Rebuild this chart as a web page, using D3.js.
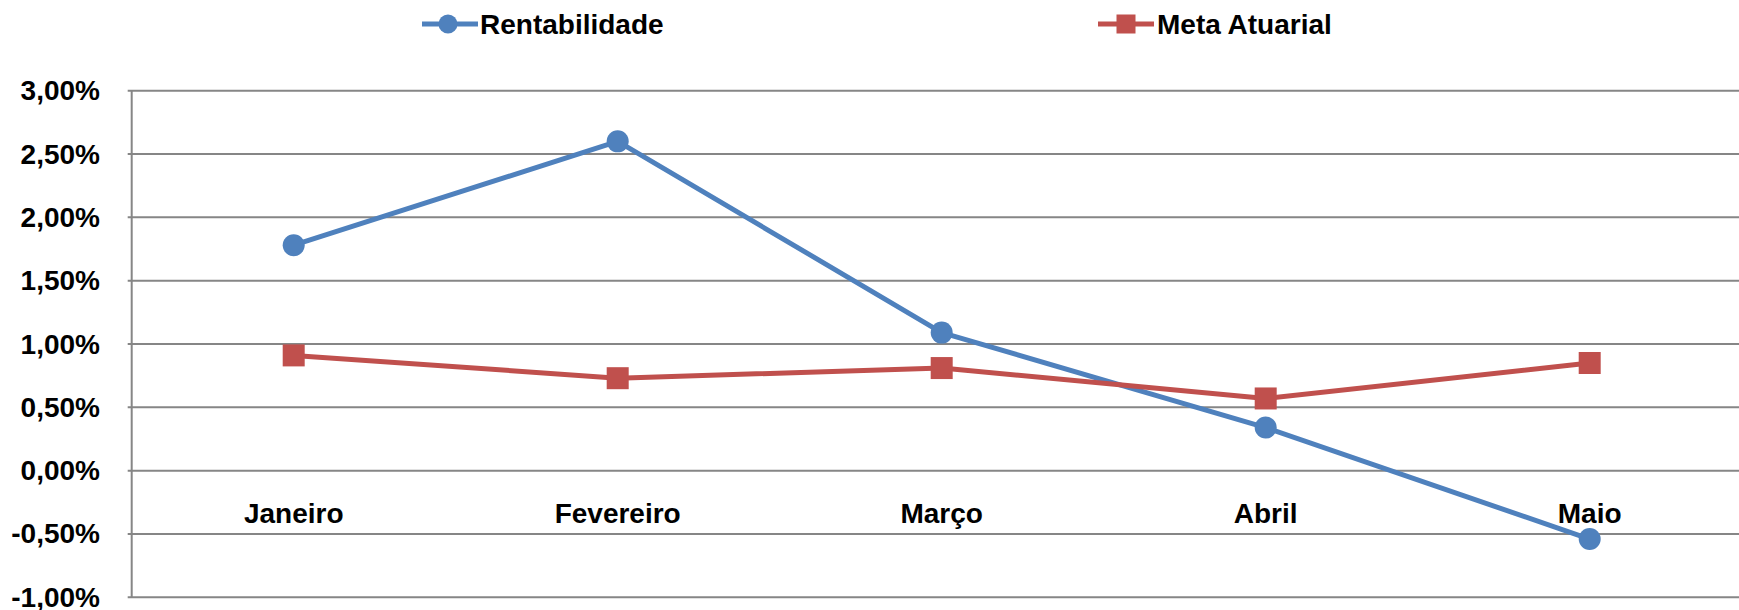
<!DOCTYPE html>
<html>
<head>
<meta charset="utf-8">
<script src="https://cdn.jsdelivr.net/npm/d3@7"></script>
<style>
  html, body { margin: 0; padding: 0; background: #ffffff; overflow: hidden; }
  svg { display: block; }
  text { font-family: "Liberation Sans", Arial, sans-serif; font-weight: bold; fill: #000; }
</style>
</head>
<body>
<svg id="chart" width="1739" height="610"></svg>
<script>
// ---- data ----
const categories = ["Janeiro", "Fevereiro", "Março", "Abril", "Maio"];
const rentabilidade = [1.78, 2.60, 1.09, 0.34, -0.54];
const metaAtuarial = [0.91, 0.73, 0.81, 0.57, 0.85];
const yTicks = [-1.0, -0.5, 0.0, 0.5, 1.0, 1.5, 2.0, 2.5, 3.0];
const seriesNames = ["Rentabilidade", "Meta Atuarial"];

// ---- layout ----
const W = 1739, H = 610;
const plotLeft = 131.7, plotRight = 1751.7, plotTop = 90.7, plotBottom = 597.3;
const blue = "#4F81BD", red = "#C0504D", grid = "#868686";

const svg = d3.select("#chart");

const x = d3.scalePoint().domain(categories).range([plotLeft, plotRight]).padding(0.5);
const y = d3.scaleLinear().domain([-1, 3]).range([plotBottom, plotTop]);
const fmt = v => v.toFixed(2).replace(".", ",") + "%";

// gridlines
svg.append("g").selectAll("line").data(yTicks).join("line")
  .attr("x1", plotLeft - 4).attr("x2", plotRight)
  .attr("y1", d => y(d)).attr("y2", d => y(d))
  .attr("stroke", grid).attr("stroke-width", 2);

// left axis line
svg.append("line")
  .attr("x1", plotLeft).attr("x2", plotLeft)
  .attr("y1", y(3)).attr("y2", y(-1))
  .attr("stroke", grid).attr("stroke-width", 2);

// y labels
svg.append("g").selectAll("text").data(yTicks).join("text")
  .attr("x", 100).attr("y", d => y(d))
  .attr("text-anchor", "end").attr("dominant-baseline", "central")
  .attr("font-size", 28)
  .text(fmt);

// category labels (below zero line)
svg.append("g").selectAll("text").data(categories).join("text")
  .attr("x", d => x(d)).attr("y", y(0) + 52)
  .attr("text-anchor", "middle")
  .attr("font-size", 28)
  .text(d => d);

const line = d3.line().x(d => x(d.c)).y(d => y(d.v));

const blueData = categories.map((c, i) => ({ c, v: rentabilidade[i] }));
const redData = categories.map((c, i) => ({ c, v: metaAtuarial[i] }));

// Rentabilidade
svg.append("path").datum(blueData).attr("d", line)
  .attr("fill", "none").attr("stroke", blue).attr("stroke-width", 5)
  .attr("stroke-linejoin", "round");
svg.append("g").selectAll("circle").data(blueData).join("circle")
  .attr("cx", d => x(d.c)).attr("cy", d => y(d.v)).attr("r", 11)
  .attr("fill", blue);

// Meta Atuarial
svg.append("path").datum(redData).attr("d", line)
  .attr("fill", "none").attr("stroke", red).attr("stroke-width", 5)
  .attr("stroke-linejoin", "round");
svg.append("g").selectAll("rect").data(redData).join("rect")
  .attr("x", d => x(d.c) - 11).attr("y", d => y(d.v) - 11)
  .attr("width", 22).attr("height", 22)
  .attr("fill", red);

// legend
const legendY = 24;
const lg = svg.append("g");
// Rentabilidade
lg.append("line").attr("x1", 422).attr("x2", 478).attr("y1", legendY).attr("y2", legendY)
  .attr("stroke", blue).attr("stroke-width", 5);
lg.append("circle").attr("cx", 448).attr("cy", legendY).attr("r", 9.5).attr("fill", blue);
lg.append("text").attr("x", 480).attr("y", legendY).attr("dominant-baseline", "central")
  .attr("font-size", 28).text(seriesNames[0]);
// Meta Atuarial
lg.append("line").attr("x1", 1098).attr("x2", 1154).attr("y1", legendY).attr("y2", legendY)
  .attr("stroke", red).attr("stroke-width", 5);
lg.append("rect").attr("x", 1126 - 9.5).attr("y", legendY - 9.5).attr("width", 19).attr("height", 19).attr("fill", red);
lg.append("text").attr("x", 1157).attr("y", legendY).attr("dominant-baseline", "central")
  .attr("font-size", 28).text(seriesNames[1]);
</script>
</body>
</html>
